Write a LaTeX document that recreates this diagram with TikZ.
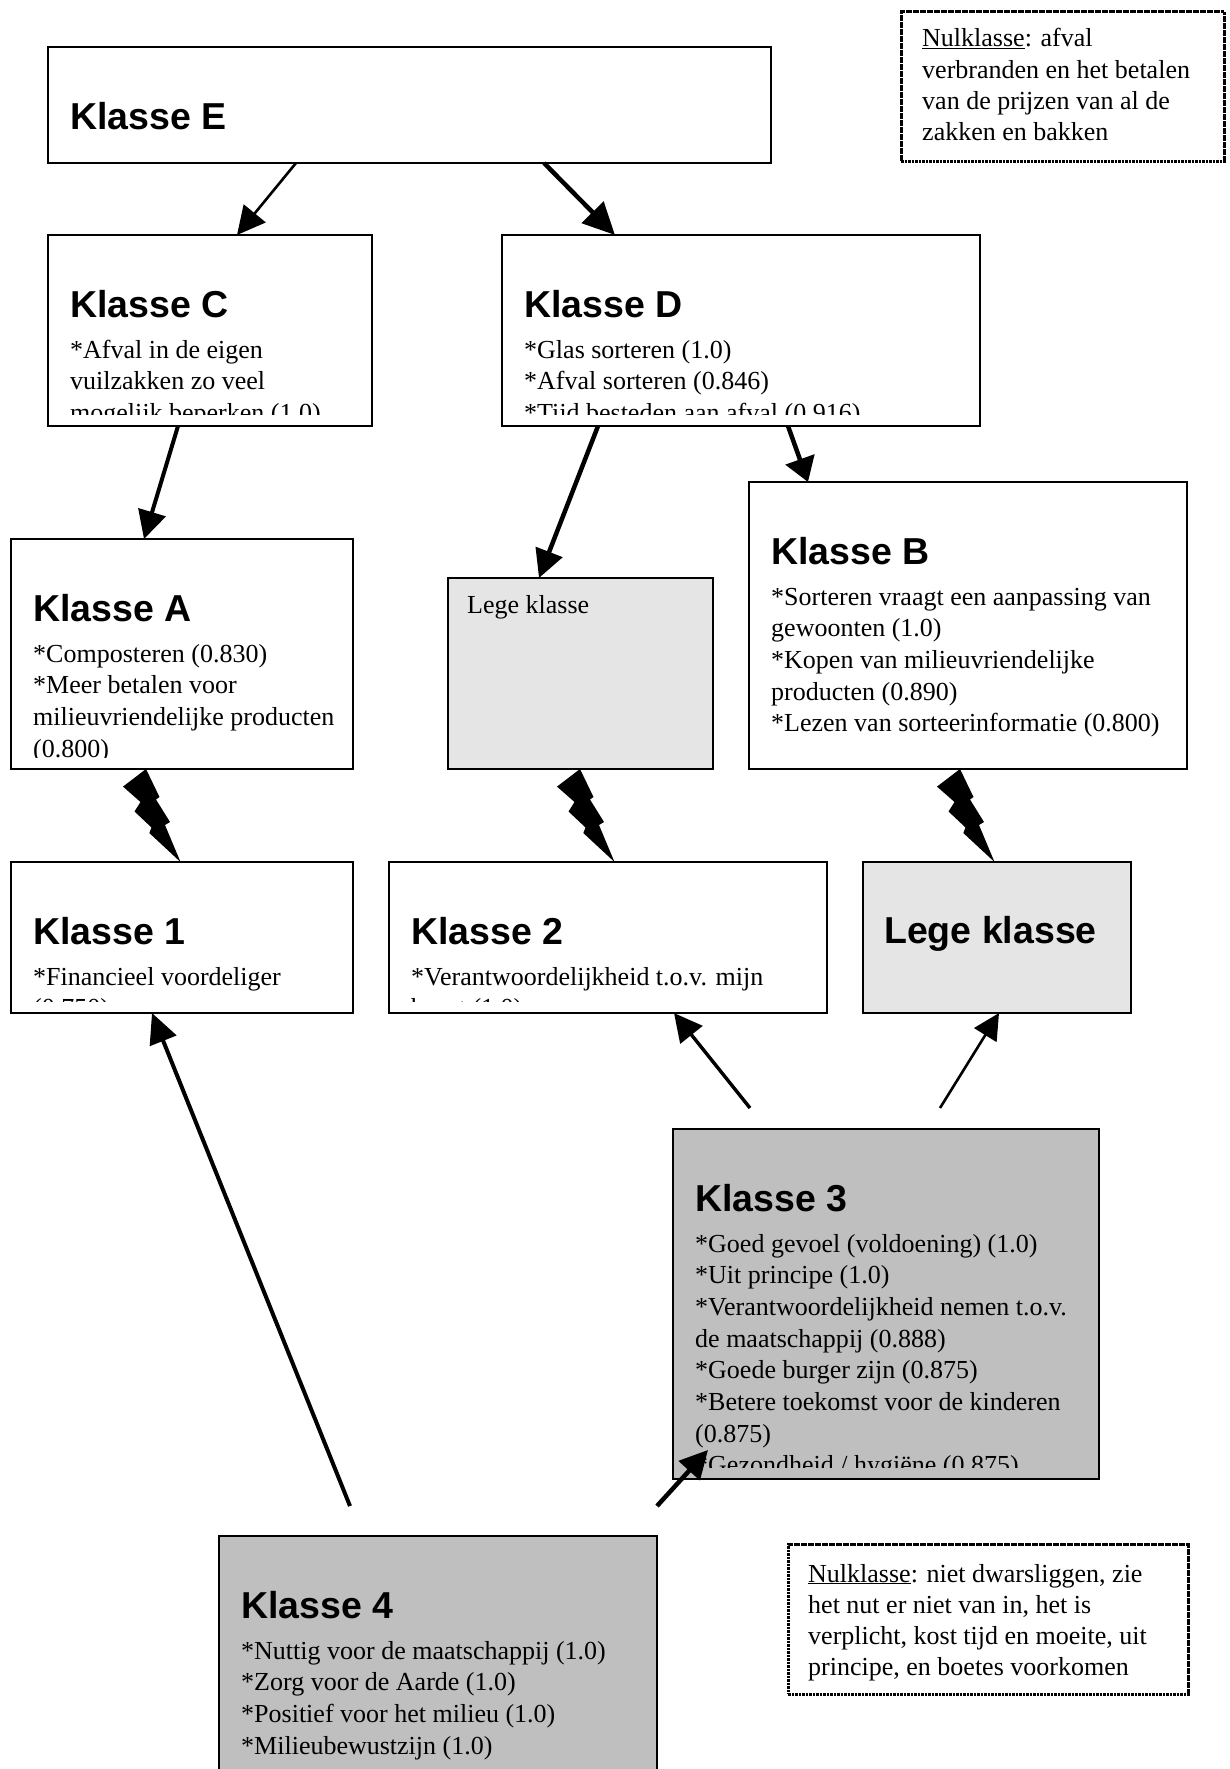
\documentclass[tikz,border=0pt]{standalone}
\usepackage{fontspec}
\setmainfont{Liberation Serif}
\newfontfamily\kopfont{Liberation Sans}
\usetikzlibrary{arrows.meta,calc}

\tikzset{
  doos/.style={draw=black, line width=1.8pt, rectangle, inner sep=0pt, outer sep=0pt, anchor=north west},
  lichtgrijs/.style={doos, fill=black!10},
  grijs/.style={doos, fill=black!25},
  notitie/.style={draw=black, line width=3pt, dash pattern=on 2.6pt off 0.9pt, rectangle, inner sep=0pt, outer sep=0pt, anchor=north west},
  titeltekst/.style={anchor=base west, inner sep=0pt, font=\kopfont\bfseries\fontsize{37.5}{40}\selectfont},
  regeltekst/.style={anchor=base west, inner sep=0pt, font=\fontsize{26}{31.7}\selectfont},
  pijl/.style={line width=#1, line cap=butt, -{Triangle[length=28pt,width=28pt]}},
  pijl/.default=4pt,
  bliksem/.pic={\fill[black] (0,0) -- (13.5,28) -- (10,30.5) -- (24,53) -- (19,56) -- (34.5,93)
      -- (3.3,64) -- (5.5,58.5) -- (-11.5,42.5) -- (-5.5,33) -- (-23,17.6) -- cycle;}
}

% box from its corners: style, name, left, top, right, bottom
\newcommand\maakdoos[6]{\node[#1, minimum width={#5-#3}, minimum height={#6-#4}] (#2) at (#3,#4) {};}

% title plus bullet lines, clipped to the text area of the box
\newcommand\klassetekst[3]{%
  \begin{scope}
    \clip ($(#1.north west)+(2,2)$) rectangle ($(#1.south east)+(-2,-12)$);
    \node[titeltekst] at ($(#1.north west)+(22,82)$) {#2};
    \foreach \regel [count=\i] in {#3}
      \node[regeltekst] at ($(#1.north west)+(22,{123+31.7*(\i-1)})$) {\regel};
  \end{scope}}

% plain lines of text inside a box: name, left inset, first baseline, line list
\newcommand\vrijetekst[4]{%
  \foreach \regel [count=\i] in {#4}
    \node[regeltekst] at ($(#1.north west)+(#2,{#3+31*(\i-1)})$) {\regel};}

\begin{document}
\begin{tikzpicture}[x=1pt, y=-1pt]
  \useasboundingbox (0,0) rectangle (1229,1769);
  \fill[white] (0,0) rectangle (1229,1769);
  \clip (0,0) rectangle (1229,1769);

  % boxes
  \maakdoos{notitie}{N1}{901}{12}{1224}{161}
  \maakdoos{doos}{E}{48}{47}{771}{163}
  \maakdoos{doos}{C}{48}{235}{372}{426}
  \maakdoos{doos}{D}{502}{235}{980}{426}
  \maakdoos{doos}{A}{11}{539}{353}{769}
  \maakdoos{lichtgrijs}{L1}{448}{578}{713}{769}
  \maakdoos{doos}{B}{749}{482}{1187}{769}
  \maakdoos{doos}{K1}{11}{862}{353}{1013}
  \maakdoos{doos}{K2}{389}{862}{827}{1013}
  \maakdoos{lichtgrijs}{L2}{863}{862}{1131}{1013}
  \maakdoos{grijs}{K3}{673}{1129}{1099}{1479}
  \maakdoos{grijs}{K4}{219}{1536}{657}{1800}
  \maakdoos{notitie}{N2}{788}{1544}{1188}{1694}

  % texts
  \node[titeltekst] at ($(E.north west)+(22,82)$) {Klasse E};
  \klassetekst{C}{Klasse C}{*Afval in de eigen, vuilzakken zo veel, mogelijk beperken (1.0)}
  \klassetekst{D}{Klasse D}{*Glas sorteren (1.0), *Afval sorteren (0.846), *Tijd besteden aan afval (0.916)}
  \klassetekst{A}{Klasse A}{*Composteren (0.830), *Meer betalen voor, milieuvriendelijke producten, (0.800)}
  \node[regeltekst] at ($(L1.north west)+(19,35)$) {Lege klasse};
  \klassetekst{B}{Klasse B}{*Sorteren vraagt een aanpassing van, gewoonten (1.0), *Kopen van milieuvriendelijke, producten (0.890), *Lezen van sorteerinformatie (0.800)}
  \klassetekst{K1}{Klasse 1}{*Financieel voordeliger, (0.750)}
  \klassetekst{K2}{Klasse 2}{*Verantwoordelijkheid t.o.v. mijn, buurt (1.0)}
  \node[titeltekst] at ($(L2.north west)+(21,81)$) {Lege klasse};
  \klassetekst{K3}{Klasse 3}{*Goed gevoel (voldoening) (1.0), *Uit principe (1.0), *Verantwoordelijkheid nemen t.o.v., de maatschappij (0.888), *Goede burger zijn (0.875), *Betere toekomst voor de kinderen, (0.875), {*Gezondheid / hygiëne (0.875)}}
  \klassetekst{K4}{Klasse 4}{*Nuttig voor de maatschappij (1.0), *Zorg voor de Aarde (1.0), *Positief voor het milieu (1.0), *Milieubewustzijn (1.0)}
  \vrijetekst{N1}{21}{35}{{\underline{Nulklasse}: afval}, {verbranden en het betalen}, {van de prijzen van al de}, {zakken en bakken}}
  \vrijetekst{N2}{20}{38}{{\underline{Nulklasse}: niet dwarsliggen, zie}, {het nut er niet van in, het is}, {verplicht, kost tijd en moeite, uit}, {principe, en boetes voorkomen}}

  % loose ends of the lower connectors
  \coordinate (s41) at (350,1506);
  \coordinate (s43) at (657,1506);
  \coordinate (s32) at (750,1108);
  \coordinate (s3L) at (940,1108);

  % connectors
  \draw[pijl=2.6pt] ($(E.south west)+(248,0)$) -- ($(C.north west)+(189,0)$);
  \draw[pijl=4.5pt, -{Triangle[length=32pt,width=30pt]}] ($(E.south west)+(496,0)$) -- ($(D.north west)+(113,0)$);
  \draw[pijl=4pt] ($(C.south west)+(130,0)$) -- ($(A.north west)+(133,0)$);
  \draw[pijl=4.5pt] ($(D.south west)+(96,0)$) -- ($(L1.north west)+(91,0)$);
  \draw[pijl=4.5pt, -{Triangle[length=24pt,width=30pt]}] ($(D.south west)+(286,0)$) -- ($(B.north west)+(59,0)$);
  \draw[pijl=4pt, -{Triangle[length=30pt,width=28pt]}] (s41) -- ($(K1.south west)+(141,0)$);
  \draw[pijl=3.4pt] (s32) -- ($(K2.south west)+(285,0)$);
  \draw[pijl=2.6pt, -{Triangle[length=26pt,width=26pt]}] (s3L) -- ($(L2.south west)+(136,0)$);
  \draw[pijl=4.5pt] (s43) -- ($(K3.south west)+(35,-29)$);

  % lightning bolts between the rows
  \pic at ($(A.south west)+(135,0)$) {bliksem};
  \pic at ($(L1.south west)+(132,0)$) {bliksem};
  \pic at ($(B.south west)+(211,0)$) {bliksem};
\end{tikzpicture}
\end{document}
